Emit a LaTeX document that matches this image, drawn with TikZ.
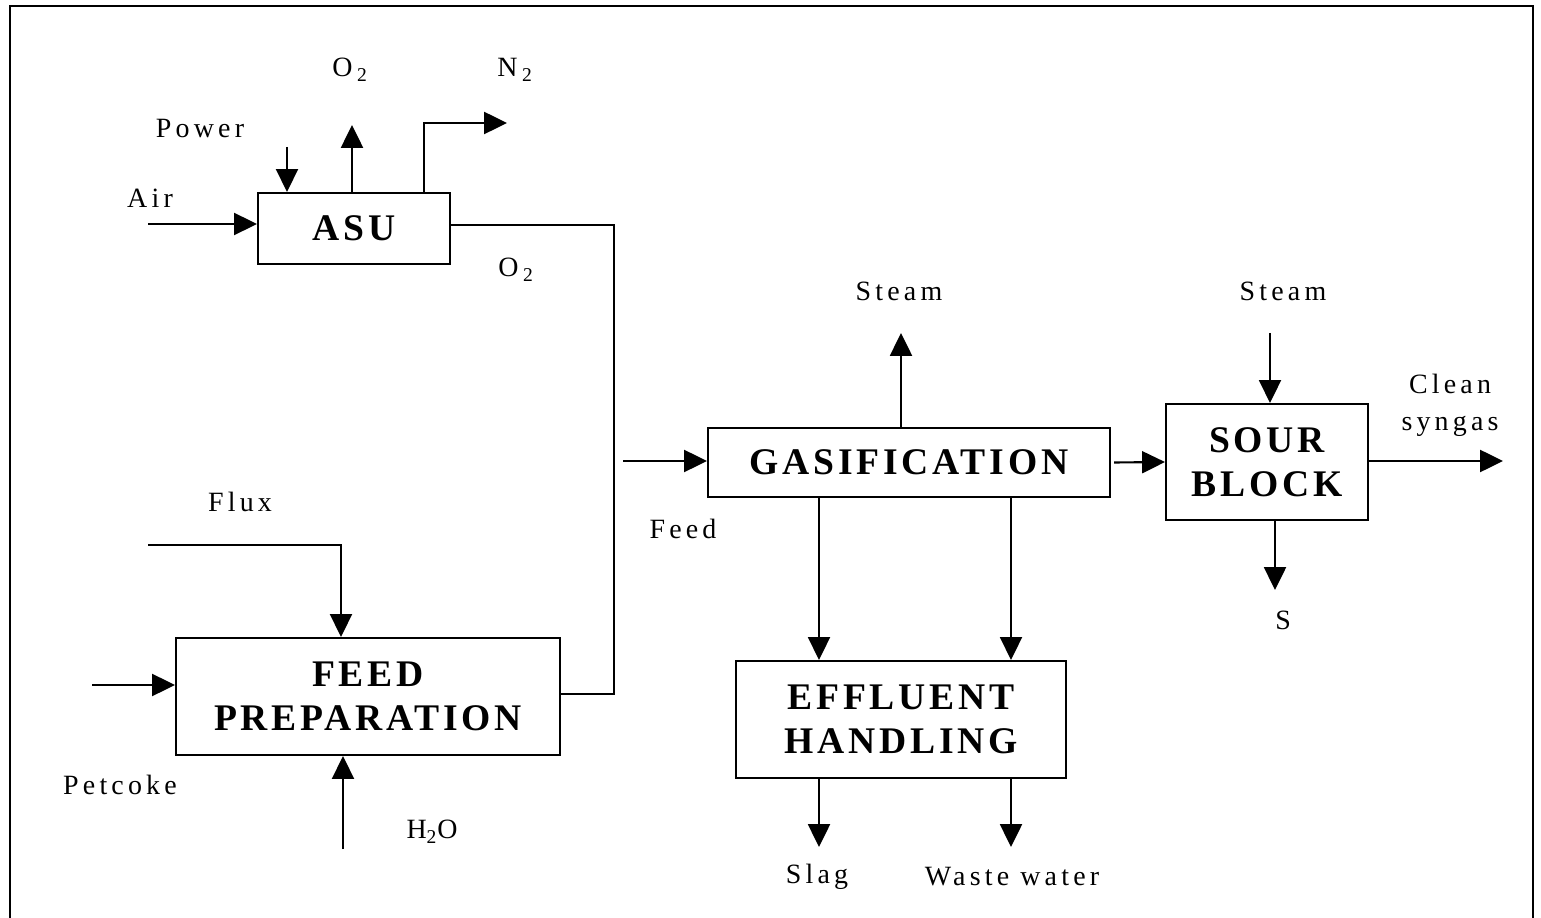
\documentclass[tikz,border=0pt]{standalone}
\usepackage{fontspec}
\setmainfont{Liberation Serif}
\newfontfamily\labf[LetterSpace=15]{Liberation Serif}
\newfontfamily\boxf[LetterSpace=10]{Liberation Serif}
\usetikzlibrary{arrows.meta}
\begin{document}
\begin{tikzpicture}[x=0.02cm,y=-0.02cm,
  line width=1.2pt,
  flow/.style={-{Triangle[length=13pt,width=12.5pt]}},
  blk/.style={draw,rectangle,inner sep=0pt,align=center,
    font={\boxf\bfseries\fontsize{21.4}{25}\selectfont}},
  lab/.style={inner sep=0pt,align=center,
    font={\labf\fontsize{15.9}{21}\selectfont}}]
\useasboundingbox (0,0) rectangle (1541,918);
\draw (10,6) rectangle (1533,940);
% blocks
\node[blk,minimum width=3.84cm,minimum height=1.42cm] (ASU) at (354,228.5) {ASU};
\node[blk,minimum width=7.68cm,minimum height=2.34cm] (FP) at (368,696.5) {FEED\\PREPARATION};
\node[blk,minimum width=8.04cm,minimum height=1.38cm] (GAS) at (909,462.5) {GASIFICATION};
\node[blk,minimum width=4.04cm,minimum height=2.32cm] (SB) at (1267,462) {SOUR\\BLOCK};
\node[blk,minimum width=6.6cm,minimum height=2.34cm] (EH) at (901,719.5) {EFFLUENT\\HANDLING};
% labels
\node[lab] (lo2a) at (350,70) {O\,\textsubscript{2}};
\node[lab] (ln2) at (515,70) {N\,\textsubscript{2}};
\node[lab] (lpow) at (200,128) {Power};
\node[lab] (lair) at (150,198) {Air};
\node[lab] (lo2b) at (516,270) {O\,\textsubscript{2}};
\node[lab] (lst1) at (899,291) {Steam};
\node[lab] (lst2) at (1283,291) {Steam};
\node[lab] (lcs) at (1450,405) {Clean\\syngas};
\node[lab] (lfeed) at (683,529) {Feed};
\node[lab] (lflux) at (240,502) {Flux};
\node[lab] (lpet) at (120,785) {Petcoke};
\node[lab] (lh2o) at (432,832) {H\textsubscript{2}O};
\node[lab] (ls) at (1283,620) {S};
\node[lab] (lslag) at (817,877) {Slag};
\node[lab] (lww) at (1012,877) {Waste water};
% free ends
\coordinate (airS) at (148,224);
\coordinate (powS) at (287,147);
\coordinate (o2E) at (352,125);
\coordinate (n2K) at (424,123);
\coordinate (n2E) at (507,123);
\coordinate (j1) at (614,225);
\coordinate (j2) at (614,694);
\coordinate (feedS) at (623,461);
\coordinate (fluxS) at (148,545);
\coordinate (fluxK) at (341,545);
\coordinate (petS) at (92,685);
\coordinate (h2oS) at (343,849);
\coordinate (stE) at (901,333);
\coordinate (st2S) at (1270,333);
\coordinate (csE) at (1503,461);
\coordinate (sE) at (1275,590);
\coordinate (g1) at (819,600);
\coordinate (g2) at (1011,600);
\coordinate (slagE) at (819,847);
\coordinate (wwE) at (1011,847);
% connectors
\draw[flow] (airS) -- (airS -| ASU.west);
\draw[flow] (powS) -- (powS |- ASU.north);
\draw[flow] (o2E |- ASU.north) -- (o2E);
\draw[flow] (n2K |- ASU.north) -- (n2K) -- (n2E);
\draw (ASU.east |- j1) -- (j1) -- (j2) -- (FP.east |- j2);
\draw[flow] (feedS) -- (feedS -| GAS.west);
\draw[flow] (fluxS) -- (fluxK) -- (fluxK |- FP.north);
\draw[flow] (petS) -- (petS -| FP.west);
\draw[flow] (h2oS) -- (h2oS |- FP.south);
\draw[flow] (stE |- GAS.north) -- (stE);
\draw[flow] ([xshift=3*0.02cm]GAS.east) -- (SB.west);
\draw[flow] (st2S) -- (st2S |- SB.north);
\draw[flow] (SB.east |- csE) -- (csE);
\draw[flow] (sE |- SB.south) -- (sE);
\draw[flow] (g1 |- GAS.south) -- (g1 |- EH.north);
\draw[flow] (g2 |- GAS.south) -- (g2 |- EH.north);
\draw[flow] (slagE |- EH.south) -- (slagE);
\draw[flow] (wwE |- EH.south) -- (wwE);
\end{tikzpicture}
\end{document}
